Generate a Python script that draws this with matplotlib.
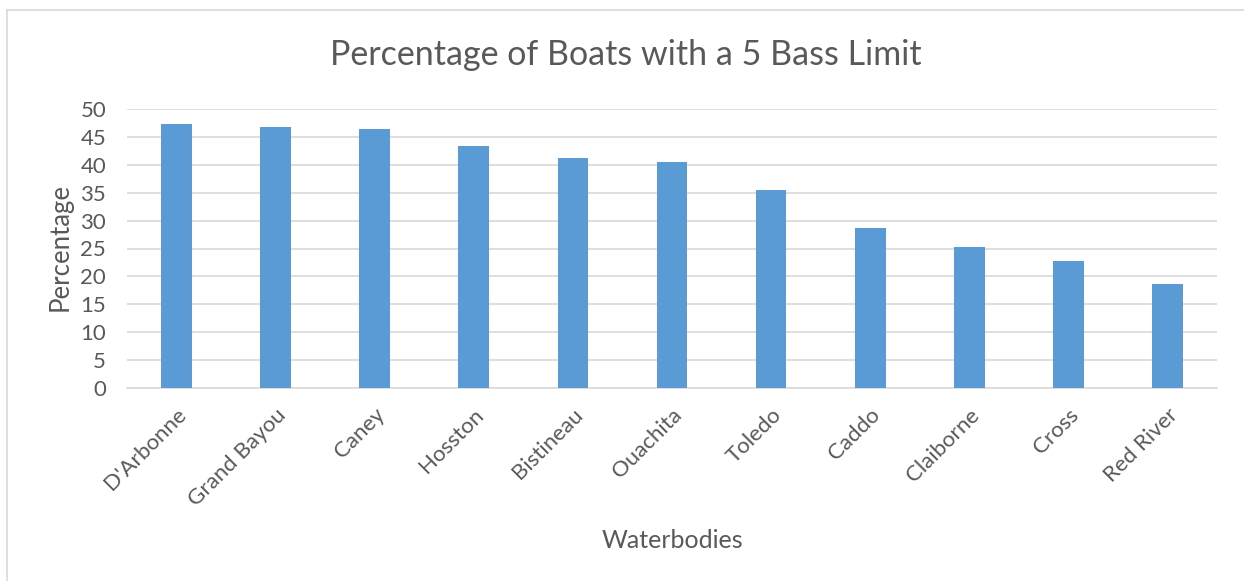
import numpy as np
import matplotlib
matplotlib.use('Agg')
import matplotlib.pyplot as plt
from matplotlib.lines import Line2D

plt.rcParams['font.family'] = ['Lato', 'DejaVu Sans']

waterbodies = ["D'Arbonne", "Grand Bayou", "Caney", "Hosston", "Bistineau",
               "Ouachita", "Toledo", "Caddo", "Claiborne", "Cross", "Red River"]
percentage = [47.4, 46.7, 46.4, 43.4, 41.3, 40.5, 35.5, 28.6, 25.2, 22.7, 18.7]
yticks = [0, 5, 10, 15, 20, 25, 30, 35, 40, 45, 50]

textcol = '#595959'
W, H = 1244, 581

fig = plt.figure(figsize=(W / 100, H / 100), dpi=100)
ax = fig.add_axes([127 / W, 1 - 388 / H, (1217 - 127) / W, (388 - 109) / H])

x = np.arange(len(waterbodies))
ax.bar(x, percentage, width=0.31, color='#5b9bd5', zorder=3)

ax.set_xlim(-0.5, len(waterbodies) - 0.5)
ax.set_ylim(0, 50)
ax.set_yticks(yticks)
ax.set_xticks(x)
ax.set_xticklabels(waterbodies, rotation=45, ha='right', rotation_mode='anchor')
ax.grid(axis='y', color='#d9d9d9', linewidth=1.2, zorder=0)
for s in ['top', 'right', 'left']:
    ax.spines[s].set_visible(False)
ax.spines['bottom'].set_color('#d9d9d9')
ax.spines['bottom'].set_linewidth(1.2)
ax.tick_params(length=0, labelsize=16, labelcolor=textcol)
ax.tick_params(axis='y', pad=15)
ax.tick_params(axis='x', pad=12)

fig.text(626 / W, 1 - 55 / H, 'Percentage of Boats with a 5 Bass Limit',
         ha='center', va='center', fontsize=24.5, color=textcol)
fig.text(60 / W, 1 - 247 / H, 'Percentage', rotation=90,
         ha='center', va='center', fontsize=18.5, color=textcol)
fig.text(672 / W, 1 - 540 / H, 'Waterbodies',
         ha='center', va='center', fontsize=18, color=textcol)

# chart frame
fig.add_artist(Line2D([7 / W, 7 / W], [0, 1 - 10 / H], transform=fig.transFigure,
                      color='#d9d9d9', linewidth=1.2))
fig.add_artist(Line2D([7 / W, 1], [1 - 10 / H, 1 - 10 / H], transform=fig.transFigure,
                      color='#d9d9d9', linewidth=1.2))

fig.savefig('out.png', dpi=100, facecolor='white')
